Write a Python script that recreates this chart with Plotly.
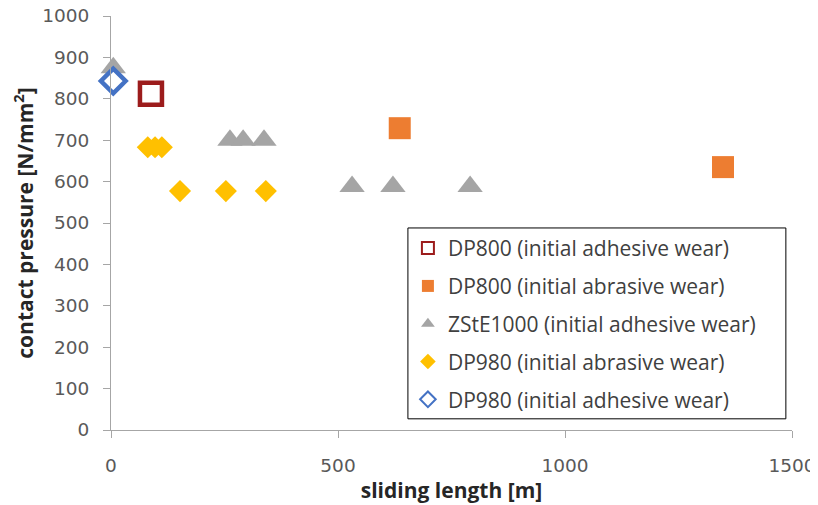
import plotly.graph_objects as go

# Data
dp800_adh_x = [88]
dp800_adh_y = [812]

dp800_abr_x = [636, 1348]
dp800_abr_y = [729, 635]

zste_adh_x = [5, 262, 291, 337, 531, 621, 791]
zste_adh_y = [875, 700, 700, 700, 588, 588, 588]

dp980_abr_x = [81, 97, 112, 152, 253, 341]
dp980_abr_y = [683, 683, 683, 577, 577, 577]

dp980_adh_x = [5]
dp980_adh_y = [843]

x_ticks = [0, 500, 1000, 1500]
y_ticks = [0, 100, 200, 300, 400, 500, 600, 700, 800, 900, 1000]

fig = go.Figure()

fig.add_trace(go.Scatter(
    x=zste_adh_x, y=zste_adh_y, mode="markers", name="ZStE1000 (initial adhesive wear)",
    marker=dict(symbol="triangle-up", size=22, color="#a5a5a5"), legendrank=3, legendgroup="c"))
fig.add_trace(go.Scatter(
    x=dp800_adh_x, y=dp800_adh_y, mode="markers", name="DP800 (initial adhesive wear)",
    marker=dict(symbol="square-open", size=22, color="#9c1c1c", line=dict(width=4.5, color="#9c1c1c")),
    legendrank=1, legendgroup="a"))
fig.add_trace(go.Scatter(
    x=dp800_abr_x, y=dp800_abr_y, mode="markers", name="DP800 (initial abrasive wear)",
    marker=dict(symbol="square", size=22, color="#ed7d31"), legendrank=2, legendgroup="b"))
fig.add_trace(go.Scatter(
    x=dp980_abr_x, y=dp980_abr_y, mode="markers", name="DP980 (initial abrasive wear)",
    marker=dict(symbol="diamond", size=17, color="#ffc000"), legendrank=4, legendgroup="d"))
fig.add_trace(go.Scatter(
    x=dp980_adh_x, y=dp980_adh_y, mode="markers", name="DP980 (initial adhesive wear)",
    marker=dict(symbol="diamond", size=19, color="white", line=dict(width=4.5, color="#4472c4")),
    legendrank=5, legendgroup="e"))

# the page body adds an 8px offset, so the figure is sized 810x497
fig.update_layout(
    width=810, height=497,
    margin=dict(l=103, r=26, t=8, b=75),
    paper_bgcolor="white", plot_bgcolor="white",
    font=dict(family="DejaVu Sans", color="#595959"),
    showlegend=True,
    legend=dict(
        x=0.436, y=0.488, xanchor="left", yanchor="top",
        bgcolor="rgba(0,0,0,0)", borderwidth=0,
        font=dict(family="Open Sans", size=21, color="#404040"),
        itemsizing="constant", tracegroupgap=7.5, itemwidth=30,
    ),
    shapes=[dict(
        type="rect", xref="paper", yref="paper",
        x0=0.436, x1=0.991, y0=0.027, y1=0.488,
        line=dict(color="#000000", width=1), fillcolor="white", layer="above",
    )],
    xaxis=dict(
        range=[0, 1500], tickvals=x_ticks, ticktext=[str(v) for v in x_ticks],
        automargin=False, ticklabeloverflow="allow",
        showgrid=False, zeroline=False, showline=True, linecolor="#a6a6a6", linewidth=1,
        ticks="outside", ticklen=7, tickcolor="#a6a6a6",
        tickfont=dict(family="DejaVu Sans", size=18.5, color="#595959"),
        ticklabelstandoff=12,
        title=dict(text="sliding length [m]", font=dict(family="Open Sans", size=21, color="#262626", weight="bold"), standoff=4),
    ),
    yaxis=dict(
        range=[0, 1000], tickvals=y_ticks, ticktext=[str(v) for v in y_ticks],
        automargin=False, ticklabeloverflow="allow",
        showgrid=False, zeroline=False, showline=True, linecolor="#a6a6a6", linewidth=1,
        ticks="outside", ticklen=7, tickcolor="#a6a6a6",
        tickfont=dict(family="DejaVu Sans", size=18.5, color="#595959"),
        ticklabelstandoff=10,
        title=dict(text="contact pressure [N/mm<sup>2</sup>]", font=dict(family="Open Sans", size=21, color="#262626", weight="bold"), standoff=10),
    ),
)
fig.update_traces(cliponaxis=False)

fig.write_html("out.html")
